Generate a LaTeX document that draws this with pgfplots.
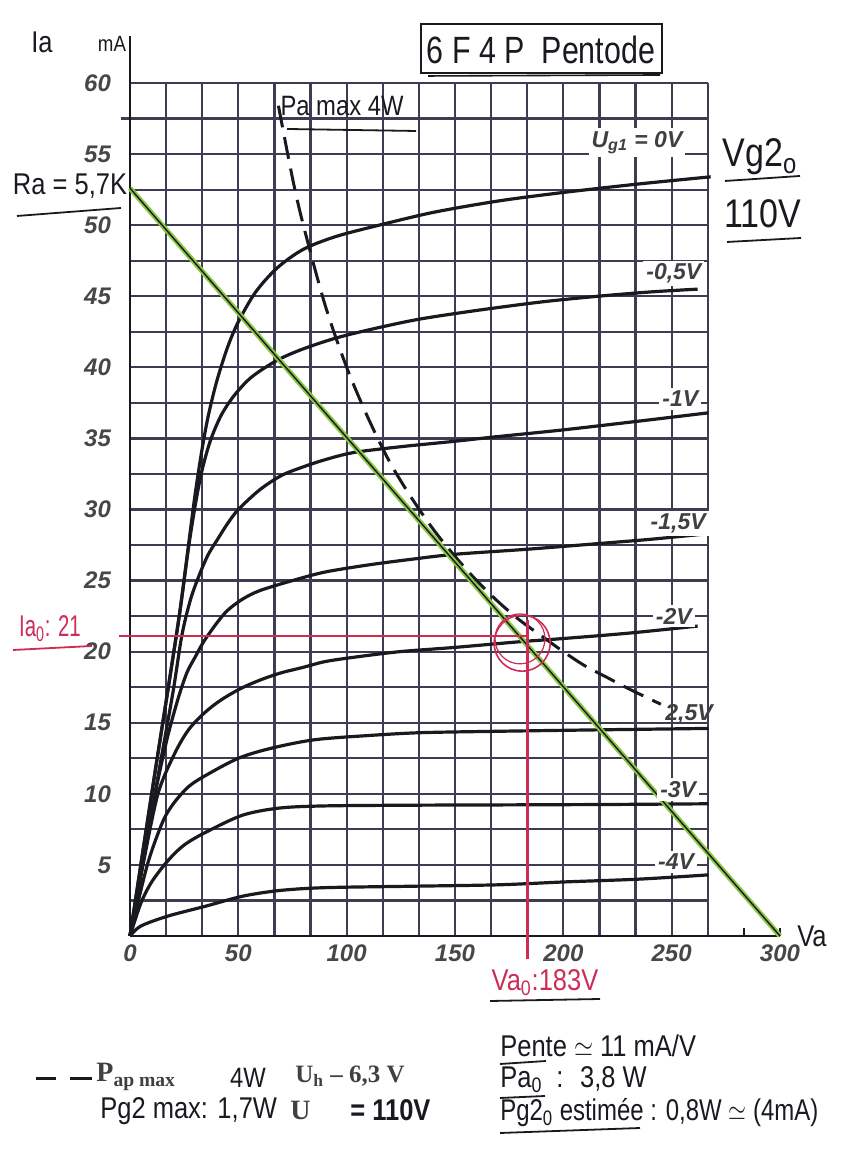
\documentclass[border=0pt]{standalone}
\usepackage{fontspec}
\setmainfont{Liberation Sans}
\newfontfamily\serifb{Liberation Serif}
\usepackage{pgfplots}
\usepackage{pgfplotstable}
\pgfplotsset{compat=1.18}
\definecolor{gridc}{RGB}{60,60,82}
\definecolor{redc}{RGB}{205,45,85}
\definecolor{greenc}{RGB}{140,200,70}
\definecolor{inkc}{RGB}{25,25,32}
\tikzset{
  curve/.style={line width=1.6pt, color=inkc, smooth, tension=0.5},
  lab/.style={font=\fontsize{11.5}{13}\selectfont\bfseries\itshape, text=black!75, fill=white, inner sep=1.5pt},
}

\pgfplotstableread{
v i
0 0
10 10
18 17.8
23 22.8
27 27.5
30 31
33 34
36 36.5
40 39
45 41.4
50 43.2
58 45.3
68 47
80 48.3
95 49.2
115 50
140 50.9
170 51.7
200 52.3
235 52.9
268 53.4
}\gzero
\pgfplotstableread{
v i
0 0
10 10
18 17.8
23 22.8
27 27.3
30 30.2
33 32.6
37 34.8
42 36.6
48 38
56 39.3
68 40.5
80 41.3
96 42.1
115 42.8
134 43.4
160 44
190 44.6
216 45
240 45.3
262 45.5
}\ghalf
\pgfplotstableread{
v i
0 0
5 4.3
10 8.7
15 13
20 17.3
24 21.2
28 23.7
32 25.4
36 26.8
40 27.8
45 29
50 30
60 31.4
70 32.4
80 33
90 33.5
103 34
124 34.4
150 34.8
168 35.1
200 35.6
234 36.2
267 36.8
}\gone
\pgfplotstableread{
v i
0 0
6 5.2
11.6 10
17 13.8
22 16.6
26.2 18.5
30 19.6
34 20.7
40 22
45 22.9
52 23.7
60 24.3
75 25
90 25.6
110 26.1
130 26.5
150 26.85
183 27.2
216 27.6
240 27.9
267 28.3
}\gonehalf
\pgfplotstableread{
v i
0 0
6 5
12.9 10
20.5 12.8
27 14.5
34.4 15.7
42 16.6
51 17.4
60 18
69.5 18.5
80 18.9
90 19.3
103 19.6
124.5 20
150 20.3
180 20.7
198 20.9
230 21.3
262 21.8
}\gtwo
\pgfplotstableread{
v i
0 0
8 5
15 8
20 9.3
27 10.5
35 11.3
50 12.5
65 13.2
85 13.8
110 14.1
134 14.3
170 14.4
216 14.5
267 14.6
}\gtwohalf
\pgfplotstableread{
v i
0 0
5 2.3
10 3.8
17.5 5.3
25 6.4
35 7.3
52 8.5
69 9.0
90 9.15
130 9.2
170 9.22
220 9.25
267 9.3
}\gthree
\pgfplotstableread{
v i
0 0
5 0.7
17.5 1.4
35 2.1
52 2.8
69 3.2
90 3.4
130 3.5
170 3.6
200 3.8
235 4.0
267 4.3
}\gfour

\begin{document}
\begin{tikzpicture}
\useasboundingbox (0,0) rectangle (425pt,585pt);
\begin{axis}[
  at={(65pt,117pt)}, anchor=south west, scale only axis,
  width=325pt, height=426.5pt,
  xmin=0, xmax=300, ymin=0, ymax=60,
  axis line style={draw=none}, tick style={draw=none},
  xtick={0,50,...,300}, ytick={5,10,...,60},
  clip=false,
  /pgf/number format/assume math mode=true,
  ticklabel style={font=\fontsize{12}{14}\selectfont\bfseries\itshape, text=black!72},
  xticklabel style={yshift=-1pt},
  yticklabel style={xshift=-6pt},
]
% grid
\pgfplotsinvokeforeach{0,16.667,33.333,50,66.667,83.333,100,116.667,133.333,150,166.667,183.333,200,216.667,233.333,250,266.667}{
  \draw[gridc, line width=1.1pt] (axis cs:#1,0) -- (axis cs:#1,60);
}
\pgfplotsinvokeforeach{0,2.5,...,60}{
  \draw[gridc, line width=1.1pt] (axis cs:0,#1) -- (axis cs:266.667,#1);
}
\draw[gridc, line width=1.1pt] (axis cs:-4,57.5) -- (axis cs:0,57.5);
% axes
\draw[inkc, line width=1.3pt] (axis cs:0,0) -- (axis cs:0,63.3);
\draw[inkc, line width=1.3pt] (axis cs:0,0) -- (axis cs:300,0);
\draw[inkc, line width=1.1pt] (axis cs:283.33,0) -- (axis cs:283.33,0.55);
\draw[inkc, line width=1.1pt] (axis cs:300,0) -- (axis cs:300,0.55);

% curves
\addplot[curve] table[x=v,y=i] {\gzero};
\addplot[curve] table[x=v,y=i] {\ghalf};
\addplot[curve] table[x=v,y=i] {\gone};
\addplot[curve] table[x=v,y=i] {\gonehalf};
\addplot[curve] table[x=v,y=i] {\gtwo};
\addplot[curve] table[x=v,y=i] {\gtwohalf};
\addplot[curve] table[x=v,y=i] {\gthree};
\addplot[curve] table[x=v,y=i] {\gfour};

% Pa max 4 W hyperbola
\addplot[inkc, line width=1.5pt, smooth, dash pattern=on 11pt off 5pt] coordinates {
(68.5,58.4)(75,53.3)(80,50)(90,44.4)(100,40)(110,36.4)(120,33.3)(130,30.8)(140,28.6)(150,26.7)(160,25)(170,23.5)(180,22.2)(190,21.1)(200,20)(210,19)(220,18.2)(230,17.4)(245,16.3)};

% load line Ra = 5.7k
\addplot[greenc, line width=2.6pt] coordinates {(0,52.6)(300,0)};
\addplot[inkc, line width=0.7pt] coordinates {(0,52.6)(300,0)};

% operating point
\addplot[redc, line width=1.1pt] coordinates {(-5,21.1)(183,21.1)};
\addplot[redc, line width=1.1pt] coordinates {(183.5,22.2)(183.5,-1.6)};
\draw[redc, line width=0.8pt] (axis cs:181,20.6) circle[radius=14pt];
\draw[redc, line width=0.6pt] (axis cs:180,20.9) circle[radius=12.5pt];

% curve labels
\node[lab] at (axis cs:234,55.8) {U\textsubscript{g1} = 0V};
\node[lab] at (axis cs:251,46.6) {-0,5V};
\node[lab] at (axis cs:254,37.8) {-1V};
\node[lab] at (axis cs:253,29.0) {-1,5V};
\node[lab] at (axis cs:251,22.5) {-2V};
\node[lab, fill=none] at (axis cs:258,15.6) {2,5V};
\node[lab] at (axis cs:253,10.3) {-3V};
\node[lab] at (axis cs:252,5.2) {-4V};
\end{axis}

\begin{scope}[x=0.5pt,y=-0.5pt,shift={(0pt,585pt)}]
\tikzset{hw/.style={font=\fontsize{14}{16}\selectfont, inner sep=0pt, xscale=0.85, text=inkc},
         pr/.style={font=\serifb\bfseries\fontsize{12.5}{14}\selectfont, inner sep=0pt, text=black!75}}
% axis titles
\node[hw, font=\fontsize{15}{17}\selectfont] at (42,42) {Ia};
\node[hw, font=\fontsize{11}{13}\selectfont] at (112,44) {mA};
\node[hw, font=\fontsize{15}{17}\selectfont] at (812,936) {Va};
% title box
\draw[inkc, line width=1pt] (421,24) rectangle (662,73);
\draw[inkc, line width=0.8pt] (428,76) -- (660,75);
\node[font=\fontsize{19}{21}\selectfont, xscale=0.8, text=inkc] at (541,50) {6 F 4 P\ \ Pentode};
% Pa max
\node[hw] at (342,106) {Pa max 4W};
\draw[inkc, line width=0.9pt] (287,129) -- (416,131);
% Ra
\node[hw, font=\fontsize{15}{17}\selectfont] at (70,186) {Ra = 5,7K};
\draw[inkc, line width=0.9pt] (17,216) -- (121,208);
% Vg2
\node[hw, font=\fontsize{20}{22}\selectfont] at (760,157) {Vg2\textsubscript{o}};
\draw[inkc, line width=0.9pt] (725,181) -- (800,176);
\node[hw, font=\fontsize{20}{22}\selectfont] at (763,214) {110V};
\draw[inkc, line width=0.9pt] (727,242) -- (801,238);
% operating point labels
\node[hw, text=redc, font=\fontsize{15}{17}\selectfont, xscale=0.8] at (50,629) {Ia\textsubscript{0}: 21};
\draw[redc, line width=0.9pt] (13,650) -- (92,646);
\node[hw, text=redc, font=\fontsize{15}{17}\selectfont] at (545,983) {Va\textsubscript{0}:183V};
\draw[inkc, line width=0.9pt] (490,1001) -- (600,999);
% bottom left
\draw[inkc, line width=1.5pt] (36,1079) -- (56,1079);
\draw[inkc, line width=1.5pt] (70,1079) -- (92,1079);
\node[pr, anchor=west, font=\serifb\bfseries\fontsize{14}{16}\selectfont] at (96,1077) {P\textsubscript{ap max}};
\node[hw] at (248,1078) {4W};
\node[pr, anchor=west] at (295,1076) {U\textsubscript{h} – 6,3 V};
\node[hw, anchor=west, font=\fontsize{15}{17}\selectfont] at (100,1111) {Pg2 max: 1,7W};
\node[pr, anchor=west, font=\serifb\bfseries\fontsize{14}{16}\selectfont] at (290,1110) {U};
\node[hw, anchor=west, font=\fontsize{15}{17}\selectfont\bfseries] at (350,1110) {= 110V};
% bottom right
\node[hw, anchor=west, font=\fontsize{15}{17}\selectfont] at (500,1046) {Pente $\simeq$ 11 mA/V};
\draw[inkc, line width=0.9pt] (500,1064) -- (546,1061);
\node[hw, anchor=west, font=\fontsize{15}{17}\selectfont] at (500,1080) {Pa\textsubscript{0} \ : \ 3,8 W};
\draw[inkc, line width=0.9pt] (500,1098) -- (545,1096);
\node[hw, anchor=west, font=\fontsize{15}{17}\selectfont, xscale=0.94] at (500,1113) {Pg2\textsubscript{0} estimée : 0,8W $\simeq$ (4mA)};
\draw[inkc, line width=0.9pt] (500,1133) -- (640,1128);
\end{scope}
\end{tikzpicture}
\end{document}
